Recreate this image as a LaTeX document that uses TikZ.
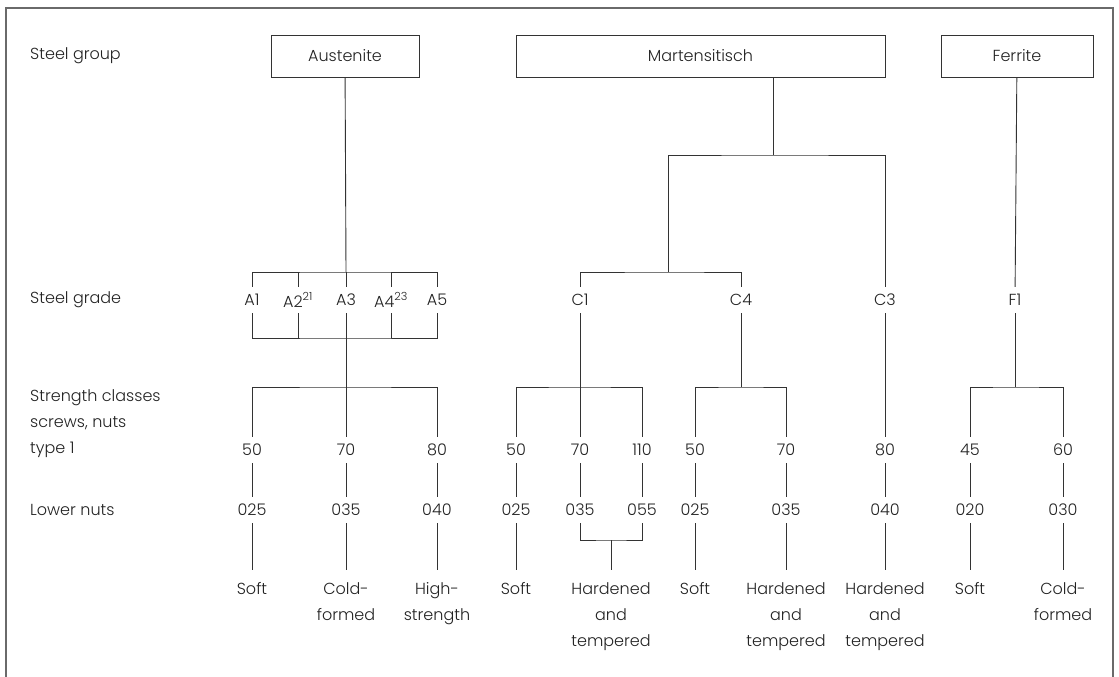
\documentclass[tikz,border=0pt]{standalone}
\usepackage{fontspec}
\setmainfont{Poppins}[UprightFont=* Light]
\usetikzlibrary{positioning}

\definecolor{inkgray}{HTML}{333333}
\definecolor{textgray}{HTML}{222222}
\definecolor{framegray}{HTML}{6A6A6A}

\tikzset{
  link/.style={draw=inkgray, line width=0.9pt},
  groupbox/.style={draw=inkgray, line width=0.9pt, minimum height=42pt, text=textgray},
  grade/.style={text=textgray, minimum height=26pt, inner xsep=1pt, inner ysep=0pt},
  rowname/.style={text=textgray, anchor=west, align=left, inner sep=0pt},
  use/.style={text=textgray, anchor=north, align=center, inner xsep=0pt, inner ysep=12pt}
}

\begin{document}
\begin{tikzpicture}[x=1pt, y=-1pt, font=\fontsize{16}{26}\selectfont]
        \useasboundingbox (0,0) rectangle (1119,677);
        % Draw the frame
        \draw[framegray, line width=1.6pt] (6,680) -- (6,8) -- (1113,8) -- (1113,680);

        % Draw the row names
        \node[rowname] (rgroup) at (30,56) {Steel group};
        \node[rowname] (rgrade) at (30,300) {Steel grade};
        \node[rowname] (rclass) at (30,424) {Strength classes\\screws, nuts\\type 1};
        \node[rowname] (rnuts) at (30,510) {Lower nuts};

        % Draw the steel groups
        \node[groupbox, minimum width=148pt] (aus) at (345,56) {Austenite};
        \node[groupbox, minimum width=369pt] (mar) at (700.5,56) {Martensitisch};
        \node[groupbox, minimum width=152pt] (fer) at (1017,56) {Ferrite};

        % Draw the steel grades
        \node[grade] (a1) at (252,300) {A1};
        \node[grade] (a2) at (298,300) {A2\textsuperscript{21}};
        \node[grade] (a3) at (346,300) {A3};
        \node[grade] (a4) at (391,300) {A4\textsuperscript{23}};
        \node[grade] (a5) at (437,300) {A5};
        \node[grade] (c1) at (580,300) {C1};
        \node[grade] (c4) at (741,300) {C4};
        \node[grade] (c3) at (885,300) {C3};
        \node[grade] (f1) at (1015,300) {F1};

        % Draw the strength classes and the lower nuts
        \foreach \x/\s/\n [count=\i] in {252/50/025, 346/70/035, 437/80/040,
            516/50/025, 580/70/035, 642/110/055, 695/50/025, 786/70/035,
            885/80/040, 970/45/020, 1063/60/030} {
          \node[grade] (s\i) at (\x,450) {\s};
          \node[grade] (n\i) at (\x,510) {\n};
          \draw[link] (s\i) -- (n\i);
        }

        % Draw the uses
        \node[use] (d1) at (252,570) {Soft};
        \node[use] (d2) at (346,570) {Cold-\\formed};
        \node[use] (d3) at (437,570) {High-\\strength};
        \node[use] (d4) at (516,570) {Soft};
        \node[use] (d5) at (611,570) {Hardened\\and\\tempered};
        \node[use] (d7) at (695,570) {Soft};
        \node[use] (d8) at (786,570) {Hardened\\and\\tempered};
        \node[use] (d9) at (885,570) {Hardened\\and\\tempered};
        \node[use] (d10) at (970,570) {Soft};
        \node[use] (d11) at (1063,570) {Cold-\\formed};

        % Branch points
        \coordinate (atop) at (346,272);
        \coordinate (abot) at (346,338);
        \coordinate (mjoin) at (773,155);
        \coordinate (cjoin) at (668,272);
        \coordinate (abus) at (346,387);
        \coordinate (c1bus) at (580,387);
        \coordinate (c4bus) at (741,387);
        \coordinate (fbus) at (1015,387);
        \coordinate (hjoin) at (611,540);

        % Connect the austenite grades
        \draw[link] (aus) -- (atop);
        \draw[link] (a1) |- (atop) -| (a5);
        \draw[link] (a1) |- (abot) -| (a5);
        \foreach \g in {a2,a3,a4} {
          \draw[link] (\g.north) -- (\g.north |- atop);
          \draw[link] (\g.south) -- (\g.south |- abot);
        }
        \draw[link] (abot) -- (s2);
        \draw[link] (s1) |- (abus) -| (s3);

        % Connect the martensitic grades
        \draw[link] (mjoin |- mar.south) -- (mjoin);
        \draw[link] (cjoin) |- (mjoin) -| (c3);
        \draw[link] (c1) |- (cjoin) -| (c4);
        \draw[link] (c1) -- (s5);
        \draw[link] (s4) |- (c1bus) -| (s6);
        \draw[link] (c4) -- (c4bus);
        \draw[link] (s7) |- (c4bus) -| (s8);
        \draw[link] (c3) -- (s9);

        % Connect the ferritic grades
        \draw[link] (fer) -- (f1);
        \draw[link] (f1) -- (fbus);
        \draw[link] (s10) |- (fbus) -| (s11);

        % Connect the lower nuts to the uses
        \foreach \i in {1,2,3,4,7,8,9,10,11}
          \draw[link] (n\i) -- (d\i);
        \draw[link] (n5) |- (hjoin) -| (n6);
        \draw[link] (hjoin) -- (d5);
    \end{tikzpicture}
\end{document}
